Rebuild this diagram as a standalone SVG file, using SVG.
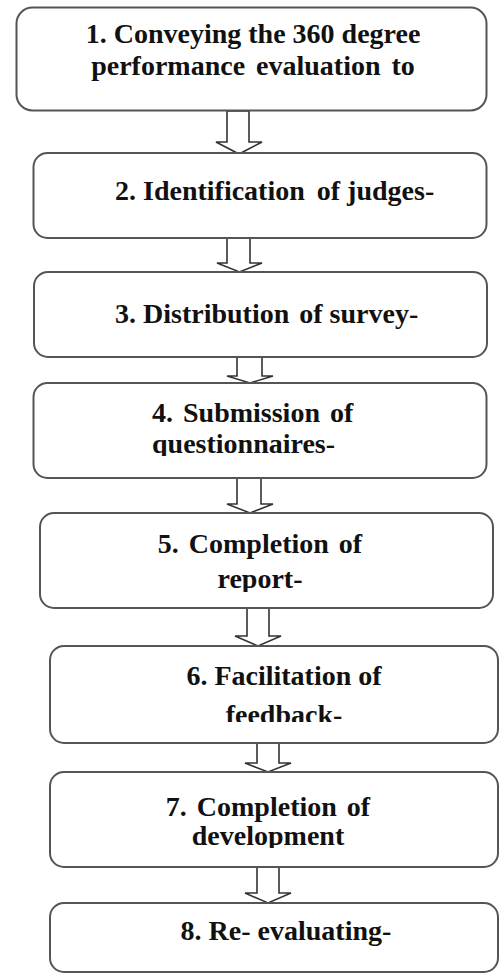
<svg xmlns="http://www.w3.org/2000/svg" width="500" height="974" viewBox="0 0 500 974">
<style>
.box{fill:#fff;stroke:#555;stroke-width:2}
.arr{fill:#fff;stroke:#333;stroke-width:1.6;stroke-linejoin:miter}
.t{font-family:"Liberation Serif","Times New Roman",serif;font-weight:bold;font-size:28px;fill:#111}
.m{text-anchor:middle}
</style>
<defs>
<clipPath id="c4"><rect x="0" y="380" width="500" height="76"/></clipPath>
<clipPath id="c5"><rect x="0" y="510" width="500" height="82"/></clipPath>
<clipPath id="c6"><rect x="0" y="640" width="500" height="82"/></clipPath>
<clipPath id="c7"><rect x="0" y="770" width="500" height="78"/></clipPath>
</defs>
<rect width="500" height="974" fill="#fff"/>
<g id="connectors">
<polygon class="arr" points="227,111 249,111 249,142 262,142 239,154 216,142 227,142"/>
<polygon class="arr" points="227,238 250,238 250,263 262,263 239.5,272 217,263 227,263"/>
<polygon class="arr" points="237,357 262,357 262,376 273,376 250,383 227,376 237,376"/>
<polygon class="arr" points="237,478 261,478 261,504 273,504 250,513 227,504 237,504"/>
<polygon class="arr" points="247,608 269,608 269,636 281,636 258,646 235,636 247,636"/>
<polygon class="arr" points="257,743 279,743 279,763 291,763 268,772 245,763 257,763"/>
<polygon class="arr" points="257,867 279,867 279,893 291,893 268,903 245,893 257,893"/>
</g>
<g id="node1">
<rect class="box" x="16.5" y="7.5" width="470" height="103" rx="16"/>
<text class="t m" x="253" y="43">1. Conveying the 360 degree</text>
<text class="t m" x="253" y="75" word-spacing="4">performance evaluation to</text>
</g>
<g id="node2">
<rect class="box" x="33.5" y="153" width="453" height="85" rx="14"/>
<text class="t" x="115" y="200">2. Identification<tspan dx="5"> of judges-</tspan></text>
</g>
<g id="node3">
<rect class="box" x="34" y="272" width="453" height="85" rx="14"/>
<text class="t" x="115" y="323">3. Distribution<tspan dx="3"> of survey-</tspan></text>
</g>
<g id="node4">
<rect class="box" x="33.5" y="383" width="453" height="95" rx="14"/>
<text class="t" x="152" y="422" word-spacing="3">4. Submission of</text>
<text class="t" x="152" y="453" clip-path="url(#c4)">questionnaires-</text>
</g>
<g id="node5">
<rect class="box" x="40" y="513" width="453" height="95" rx="14"/>
<text class="t m" x="260" y="553" word-spacing="3">5. Completion of</text>
<text class="t m" x="260" y="588" clip-path="url(#c5)">report-</text>
</g>
<g id="node6">
<rect class="box" x="50" y="646" width="448" height="97" rx="14"/>
<text class="t m" x="284" y="685">6. Facilitation of</text>
<text class="t m" x="284" y="724" clip-path="url(#c6)">feedback-</text>
</g>
<g id="node7">
<rect class="box" x="50" y="772" width="448" height="95" rx="14"/>
<text class="t m" x="268" y="816" word-spacing="3">7. Completion of</text>
<text class="t m" x="268" y="845" clip-path="url(#c7)">development</text>
</g>
<g id="node8">
<rect class="box" x="50" y="903" width="448" height="69" rx="14"/>
<text class="t m" x="286" y="940">8. Re- evaluating-</text>
</g>
</svg>
